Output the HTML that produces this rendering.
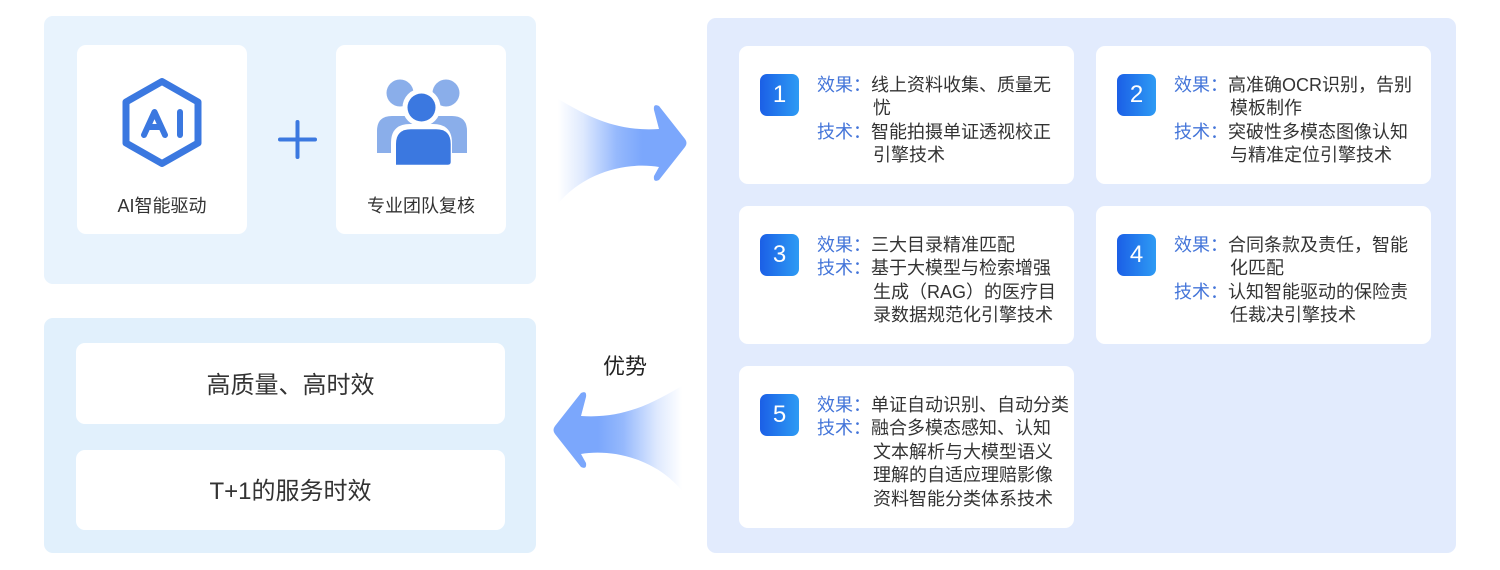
<!DOCTYPE html>
<html>
<head>
<meta charset="utf-8">
<style>
  html,body{margin:0;padding:0;}
  body{width:1500px;height:570px;position:relative;overflow:hidden;background:#ffffff;
       font-family:"Liberation Sans","Noto Sans CJK SC",sans-serif;}
  .abs{position:absolute;}
  .panel{position:absolute;border-radius:9px;}
  .wcard{position:absolute;background:#fff;border-radius:9px;}
  .lbl{position:absolute;left:0;right:0;text-align:center;color:#333;font-size:18px;line-height:24px;}
  .big{position:absolute;left:0;right:0;text-align:center;color:#333;font-size:24px;line-height:32px;}
  .card{position:absolute;background:#fff;border-radius:9px;width:335px;height:138px;}
  .badge{position:absolute;left:21px;top:28px;width:39px;height:42px;border-radius:7px;
         background:linear-gradient(90deg,#1b5fe6 0%,#2e9bf4 100%);color:#fff;
         font-size:24px;line-height:42px;text-align:center;}
  .txt{position:absolute;left:78px;top:27.7px;font-size:18px;line-height:23.6px;}
  .r{display:flex;}
  .lb{width:54px;flex:none;color:#4475d9;white-space:nowrap;}
  .c{color:#333;white-space:nowrap;padding-left:2px;text-indent:-2px;}
</style>
</head>
<body>

<!-- top-left panel -->
<div class="panel" style="left:44px;top:16px;width:492px;height:268px;background:#e8f3fd;"></div>
<div class="wcard" style="left:77px;top:45px;width:170px;height:189px;">
  <div class="lbl" style="top:149px;">AI智能驱动</div>
</div>
<div class="wcard" style="left:336px;top:45px;width:170px;height:189px;">
  <div class="lbl" style="top:149px;">专业团队复核</div>
</div>

<!-- bottom-left panel -->
<div class="panel" style="left:44px;top:318px;width:492px;height:235px;background:#e1f0fc;"></div>
<div class="wcard" style="left:76px;top:343px;width:429px;height:81px;">
  <div class="big" style="top:27px;">高质量、高时效</div>
</div>
<div class="wcard" style="left:76px;top:450px;width:429px;height:80px;">
  <div class="big" style="top:26px;">T+1的服务时效</div>
</div>

<!-- right panel -->
<div class="panel" style="left:707px;top:18px;width:749px;height:535px;background:#e2ebfd;"></div>

<div class="card" style="left:739px;top:46px;">
  <div class="badge">1</div>
  <div class="txt">
    <div class="r"><span class="lb">效果：</span><span class="c">线上资料收集、质量无<br>忧</span></div>
    <div class="r"><span class="lb">技术：</span><span class="c">智能拍摄单证透视校正<br>引擎技术</span></div>
  </div>
</div>

<div class="card" style="left:1096px;top:46px;">
  <div class="badge">2</div>
  <div class="txt">
    <div class="r"><span class="lb">效果：</span><span class="c">高准确OCR识别，告别<br>模板制作</span></div>
    <div class="r"><span class="lb">技术：</span><span class="c">突破性多模态图像认知<br>与精准定位引擎技术</span></div>
  </div>
</div>

<div class="card" style="left:739px;top:206px;">
  <div class="badge">3</div>
  <div class="txt">
    <div class="r"><span class="lb">效果：</span><span class="c">三大目录精准匹配</span></div>
    <div class="r"><span class="lb">技术：</span><span class="c">基于大模型与检索增强<br>生成（RAG）的医疗目<br>录数据规范化引擎技术</span></div>
  </div>
</div>

<div class="card" style="left:1096px;top:206px;">
  <div class="badge">4</div>
  <div class="txt">
    <div class="r"><span class="lb">效果：</span><span class="c">合同条款及责任，智能<br>化匹配</span></div>
    <div class="r"><span class="lb">技术：</span><span class="c">认知智能驱动的保险责<br>任裁决引擎技术</span></div>
  </div>
</div>

<div class="card" style="left:739px;top:366px;height:162px;">
  <div class="badge">5</div>
  <div class="txt">
    <div class="r"><span class="lb">效果：</span><span class="c">单证自动识别、自动分类</span></div>
    <div class="r"><span class="lb">技术：</span><span class="c">融合多模态感知、认知<br>文本解析与大模型语义<br>理解的自适应理赔影像<br>资料智能分类体系技术</span></div>
  </div>
</div>

<!-- "优势" label -->
<div class="abs" style="left:585px;top:352px;width:80px;text-align:center;font-size:22px;line-height:30px;color:#222;">优势</div>

<!-- icons and arrows -->
<svg class="abs" style="left:0;top:0;" width="1500" height="570" viewBox="0 0 1500 570">
  <defs>
    <linearGradient id="ag" gradientUnits="userSpaceOnUse" x1="558" y1="0" x2="642" y2="0">
      <stop offset="0" stop-color="#7ba7fc" stop-opacity="0"/>
      <stop offset="0.3" stop-color="#7ba7fc" stop-opacity="0.25"/>
      <stop offset="0.7" stop-color="#7ba7fc" stop-opacity="0.8"/>
      <stop offset="1" stop-color="#7ba7fc" stop-opacity="1"/>
    </linearGradient>
  </defs>

  <!-- AI hexagon icon -->
  <polygon points="162,81.5 198,102 198,143 162,163.5 126,143 126,102"
           fill="none" stroke="#3b78e0" stroke-width="7" stroke-linejoin="round"/>
  <g stroke="#3b78e0" stroke-width="6" stroke-linecap="round" stroke-linejoin="round" fill="none">
    <polyline points="144,135 154.5,112 165,135"/>
    <line x1="148" y1="127" x2="161" y2="127"/>
    <line x1="180" y1="112" x2="180" y2="135"/>
  </g>

  <!-- plus sign -->
  <g stroke="#3b78e0" stroke-width="4" stroke-linecap="round">
    <line x1="297.5" y1="122" x2="297.5" y2="157"/>
    <line x1="280" y1="139.5" x2="315" y2="139.5"/>
  </g>

  <!-- people icon -->
  <circle cx="400" cy="93" r="13.5" fill="#8aaeea"/>
  <circle cx="446" cy="93" r="13.5" fill="#8aaeea"/>
  <path d="M377,153 L377,131 Q377,116 392,116 L414,116 L414,153 Z" fill="#8aaeea"/>
  <path d="M467,153 L467,131 Q467,116 452,116 L430,116 L430,153 Z" fill="#8aaeea"/>
  <circle cx="421.5" cy="107.5" r="19" fill="#ffffff"/>
  <path d="M391,172 L391,143 Q391,124 410,124 L433,124 Q452,124 452,143 L452,172 Z" fill="#ffffff"/>
  <circle cx="421.5" cy="107.5" r="14" fill="#3b78e0"/>
  <path d="M396,164.7 L396,144 Q396,129.3 411,129.3 L436,129.3 Q450.7,129.3 450.7,144 L450.7,162 Q450.7,164.7 448,164.7 Z" fill="#3b78e0"/>

  <!-- right-pointing arrow -->
  <path d="M555,97 C585,115 615,132 659,129 L654,110 Q653,103 659,106 L685,139 Q688,143 685,147 L659,180 Q653,183 654,176 L659,167 C630,162 585,170 557,205 Z"
        fill="url(#ag)"/>
  <!-- left-pointing arrow (mirrored) -->
  <g transform="matrix(-1,0,0,1,1240,287)">
    <path d="M555,97 C585,115 615,132 659,129 L654,110 Q653,103 659,106 L685,139 Q688,143 685,147 L659,180 Q653,183 654,176 L659,167 C630,162 585,170 557,205 Z"
          fill="url(#ag)"/>
  </g>
</svg>

</body>
</html>
